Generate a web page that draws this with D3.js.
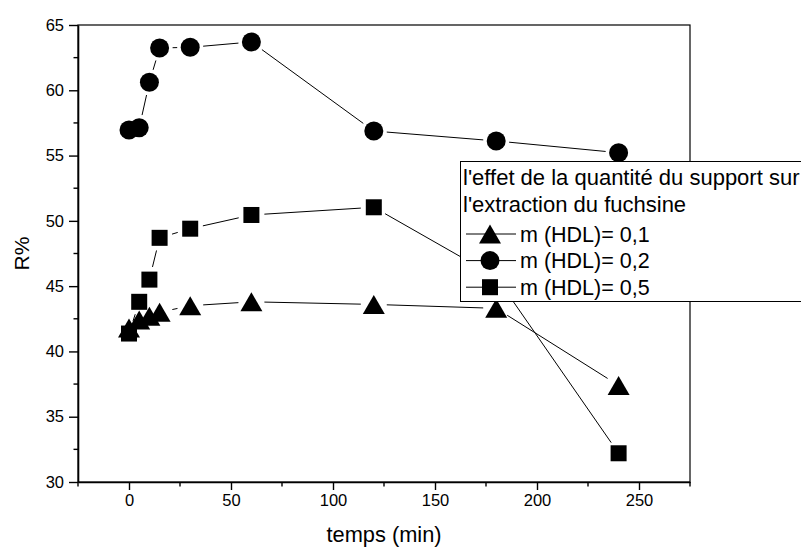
<!DOCTYPE html>
<html>
<head>
<meta charset="utf-8">
<script src="https://cdn.jsdelivr.net/npm/d3@7/dist/d3.min.js"></script>
<style>
  html, body { margin: 0; padding: 0; background: #fff; }
  svg { display: block; font-family: Arial, "Liberation Sans", sans-serif; }
</style>
</head>
<body>
<svg id="chart" width="801" height="548"></svg>
<script>
// Contact time (min) and extraction yield R% for three HDL support masses
const temps = [0, 5, 10, 15, 30, 60, 120, 180, 240];
const r01 = [41.8, 42.4, 42.7, 43.0, 43.5, 43.8, 43.6, 43.3, 37.4];
const r02 = [56.96, 57.13, 60.61, 63.24, 63.29, 63.7, 56.88, 56.12, 55.22];
const r05 = [41.37, 43.8, 45.5, 48.7, 49.4, 50.45, 51.04, 45.7, 32.2];

const seriesNames = ["m (HDL)= 0,1", "m (HDL)= 0,2", "m (HDL)= 0,5"];
const seriesShapes = ["triangle", "circle", "square"];
const legendTitle = ["l'effet de la quantité du support sur", "l'extraction du fuchsine"];

const xTicks = [0, 50, 100, 150, 200, 250];
const yTicks = [30, 35, 40, 45, 50, 55, 60, 65];
const xLabel = "temps (min)";
const yLabel = "R%";

const svg = d3.select("#chart");
const plotLeft = 78, plotRight = 690, plotTop = 25, plotBottom = 482;

const x = d3.scaleLinear().domain([-25, 275]).range([plotLeft, plotRight]);
const y = d3.scaleLinear().domain([30, 65]).range([plotBottom, plotTop]);

// Marker drawing: triangle, circle, square centred on (cx, cy)
function drawMarker(g, shape, cx, cy) {
  if (shape === "circle") {
    g.append("circle").attr("cx", cx).attr("cy", cy).attr("r", 9.5).attr("fill", "#000");
  } else if (shape === "square") {
    g.append("rect").attr("x", cx - 8).attr("y", cy - 8).attr("width", 16).attr("height", 16).attr("fill", "#000");
  } else {
    const w = 11, h = 9.5;
    g.append("path").attr("d", `M${cx},${cy - h}L${cx + w},${cy + h}L${cx - w},${cy + h}Z`).attr("fill", "#000");
  }
}

// Frame
svg.append("rect").attr("x", plotLeft).attr("y", plotTop)
  .attr("width", plotRight - plotLeft).attr("height", plotBottom - plotTop)
  .attr("fill", "none").attr("stroke", "#000").attr("stroke-width", 1.2);

// Bottom axis
const xAxis = d3.axisBottom(x).tickValues(xTicks).tickSize(8).tickSizeOuter(0).tickPadding(4);
const gx = svg.append("g").attr("transform", `translate(0,${plotBottom})`).call(xAxis);
gx.select(".domain").attr("stroke-width", 1.6);
gx.selectAll(".tick line").attr("stroke-width", 1.4);
gx.selectAll(".tick text").attr("font-size", 16.5).attr("font-family", "Arial, 'Liberation Sans', sans-serif").attr("fill", "#000");
const xMinor = d3.range(-25, 276, 50);
gx.selectAll(".minor").data(xMinor).enter().append("line")
  .attr("x1", d => x(d)).attr("x2", d => x(d)).attr("y1", 0).attr("y2", 4.5)
  .attr("stroke", "#000").attr("stroke-width", 1.4);

// Left axis
const yAxis = d3.axisLeft(y).tickValues(yTicks).tickSize(9).tickSizeOuter(0).tickPadding(5);
const gy = svg.append("g").attr("transform", `translate(${plotLeft},0)`).call(yAxis);
gy.select(".domain").attr("stroke-width", 1.6);
gy.selectAll(".tick line").attr("stroke-width", 1.4);
gy.selectAll(".tick text").attr("font-size", 16.5).attr("font-family", "Arial, 'Liberation Sans', sans-serif").attr("fill", "#000");
const yMinor = d3.range(32.5, 65, 5);
gy.selectAll(".minor").data(yMinor).enter().append("line")
  .attr("x1", 0).attr("x2", -4.5).attr("y1", d => y(d)).attr("y2", d => y(d))
  .attr("stroke", "#000").attr("stroke-width", 1.4);

// Axis titles
svg.append("text").attr("x", (plotLeft + plotRight) / 2).attr("y", 542).attr("text-anchor", "middle")
  .attr("font-size", 21.8).text(xLabel);
svg.append("text").attr("transform", `translate(29,${(plotTop + plotBottom) / 2}) rotate(-90)`)
  .attr("text-anchor", "middle").attr("font-size", 21).text(yLabel);

// Series: connecting segments stop short of each marker
const gap = 13;
const allSeries = [r01, r02, r05];
const plot = svg.append("g");
allSeries.forEach((vals, si) => {
  const pts = temps.map((t, i) => [x(t), y(vals[i])]);
  for (let i = 0; i < pts.length - 1; i++) {
    const [x1, y1] = pts[i], [x2, y2] = pts[i + 1];
    const dx = x2 - x1, dy = y2 - y1, len = Math.hypot(dx, dy);
    if (len <= 2 * gap) continue;
    const ux = dx / len, uy = dy / len;
    plot.append("line")
      .attr("x1", x1 + ux * gap).attr("y1", y1 + uy * gap)
      .attr("x2", x2 - ux * gap).attr("y2", y2 - uy * gap)
      .attr("stroke", "#000").attr("stroke-width", 1);
  }
});
allSeries.forEach((vals, si) => {
  temps.forEach((t, i) => drawMarker(plot, seriesShapes[si], x(t), y(vals[i])));
});

// Legend
const lg = svg.append("g");
lg.append("rect").attr("x", 460.5).attr("y", 161.5).attr("width", 360).attr("height", 140)
  .attr("fill", "#fff").attr("stroke", "#000").attr("stroke-width", 1);
legendTitle.forEach((t, i) => {
  lg.append("text").attr("x", 463).attr("y", 184.5 + i * 27).attr("font-size", 22).text(t);
});
seriesNames.forEach((name, i) => {
  const cy = 234 + i * 26.6;
  lg.append("line").attr("x1", 466).attr("x2", 516).attr("y1", cy).attr("y2", cy)
    .attr("stroke", "#000").attr("stroke-width", 1);
  drawMarker(lg, seriesShapes[i], 490, cy);
  lg.append("text").attr("x", 520).attr("y", cy + 7.8).attr("font-size", 21.5).text(name);
});
</script>
</body>
</html>
